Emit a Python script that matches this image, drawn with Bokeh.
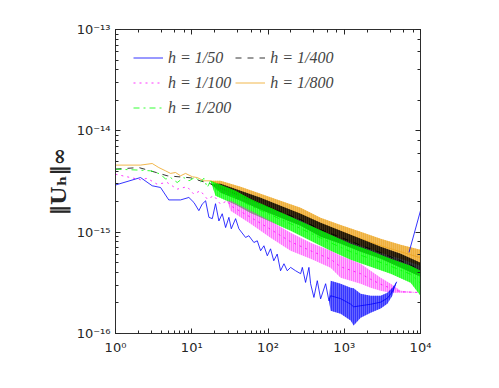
import math
from bokeh.plotting import figure
from bokeh.models import LogAxis, Range1d, Legend, LegendItem, CustomJSTickFormatter, LogTicker
from bokeh.embed import file_html
from bokeh.resources import INLINE

# ---------------- data ----------------
labels = ["h = 1/50", "h = 1/100", "h = 1/200", "h = 1/400", "h = 1/800"]

# h = 1/50
x_line_50 = [1, 2.13, 3.03, 3.9, 5.0, 7.13, 9.17, 10.7, 12.4, 13.7, 15.2, 16.8, 18.6, 20.5, 22.7,
             25.1, 27.8, 30.7, 33.0, 37.6, 41.5, 50.8, 56.1, 65.3, 72.4, 80.0, 88.4, 97.9, 108,
             119, 132, 146, 162, 179, 198, 230, 268, 282, 311, 344, 362, 400, 443, 490, 570, 630]
y_line_50 = [2.92e-15, 3.46e-15, 2.87e-15, 2.76e-15, 2.08e-15, 2.08e-15, 2.20e-15, 1.96e-15,
             1.63e-15, 1.89e-15, 2.04e-15, 1.40e-15, 1.36e-15, 1.91e-15, 1.29e-15, 1.52e-15,
             1.11e-15, 1.40e-15, 1.08e-15, 1.36e-15, 1.08e-15, 8.87e-16, 9.22e-16, 7.91e-16,
             8.22e-16, 6.56e-16, 7.34e-16, 5.85e-16, 6.85e-16, 5.22e-16, 6.08e-16, 4.16e-16,
             4.88e-16, 4.16e-16, 4.49e-16, 4.16e-16, 3.89e-16, 4.49e-16, 3.19e-16, 4.49e-16,
             3.10e-16, 2.27e-16, 3.32e-16, 2.20e-16, 3.10e-16, 2.10e-16]
x_band_50 = [663, 897, 1213, 1328, 1641, 2220, 3005, 3675, 4272, 4870]
lo_band_50 = [1.68e-16, 1.57e-16, 1.34e-16, 1.20e-16, 1.43e-16, 1.60e-16, 1.76e-16, 1.97e-16, 2.36e-16, 3.24e-16]
hi_band_50 = [3.32e-16, 3.10e-16, 2.83e-16, 2.80e-16, 2.47e-16, 2.36e-16, 2.36e-16, 2.52e-16, 2.83e-16, 3.24e-16]
x_tail_50 = [7063, 10000]
y_tail_50 = [6.31e-16, 1.63e-15]

# h = 1/100
x_line_100 = [1, 2.13, 2.6, 3.5, 4.76, 6.45, 8.7, 10.6, 13.0, 16.0, 19.5, 23.8, 29.2]
y_line_100 = [3.73e-15, 3.29e-15, 3.40e-15, 2.98e-15, 3.09e-15, 2.66e-15, 2.81e-15, 2.38e-15,
              2.56e-15, 2.12e-15, 2.29e-15, 1.89e-15, 2.04e-15]
x_band_100 = [32.3, 59.1, 108, 198, 362, 663, 897, 1641, 2220, 3005, 4064, 5495, 10000]
hi_band_100 = [2.04e-15, 1.63e-15, 1.29e-15, 9.86e-16, 7.85e-16, 6.56e-16, 5.85e-16, 4.88e-16,
               4.16e-16, 3.55e-16, 3.10e-16, 2.64e-16, 2.54e-16]
lo_band_100 = [1.63e-15, 1.21e-15, 8.81e-16, 6.56e-16, 5.47e-16, 4.46e-16, 3.55e-16, 3.10e-16,
               2.83e-16, 2.64e-16, 2.52e-16, 2.52e-16, 2.54e-16]

# h = 1/200
x_line_200 = [1, 2.13, 2.88, 3.9, 4.53, 5.27, 6.45, 7.87, 9.2, 11.2, 13.0, 14.4, 16.0, 17.6]
y_line_200 = [4.19e-15, 4.09e-15, 4.03e-15, 3.74e-15, 3.34e-15, 3.46e-15, 3.09e-15, 3.46e-15,
              3.21e-15, 3.50e-15, 3.09e-15, 3.40e-15, 2.76e-15, 3.21e-15]
x_band_200 = [20.5, 37.6, 59.1, 108, 198, 362, 663, 1213, 2220, 4064, 7430, 10000]
hi_band_200 = [3.07e-15, 2.56e-15, 2.13e-15, 1.74e-15, 1.42e-15, 1.16e-15, 9.42e-16, 7.69e-16,
               6.56e-16, 5.47e-16, 4.66e-16, 4.16e-16]
lo_band_200 = [2.29e-15, 1.86e-15, 1.55e-15, 1.27e-15, 1.03e-15, 8.22e-16, 6.56e-16, 5.35e-16,
               4.56e-16, 3.89e-16, 3.17e-16, 2.36e-16]

# h = 1/400
x_line_400 = [1, 2.02, 2.88, 4.77, 9.64, 13.0, 17.6]
y_line_400 = [4.19e-15, 4.34e-15, 4.03e-15, 3.60e-15, 3.44e-15, 3.21e-15, 3.00e-15]
x_band_400 = [23.9, 43.7, 80, 146, 268, 490, 897, 1641, 3005, 5495, 10000]
hi_band_400 = [3.00e-15, 2.56e-15, 2.18e-15, 1.82e-15, 1.52e-15, 1.24e-15, 1.03e-15, 8.61e-16,
               7.18e-16, 6.12e-16, 4.99e-16]
lo_band_400 = [2.45e-15, 2.04e-15, 1.66e-15, 1.39e-15, 1.16e-15, 9.01e-16, 7.69e-16, 6.41e-16,
               5.47e-16, 4.46e-16, 3.63e-16]

# h = 1/800
x_line_800 = [1, 2.13, 3.03, 3.70, 4.53, 5.27, 6.13, 7.13, 8.29, 10.2, 11.8, 14.4, 17.6]
y_line_800 = [4.59e-15, 4.59e-15, 4.76e-15, 4.34e-15, 4.03e-15, 3.80e-15, 3.88e-15, 3.60e-15,
              3.80e-15, 3.52e-15, 3.46e-15, 3.21e-15, 3.21e-15]
x_band_800 = [23.9, 43.7, 80, 146, 268, 490, 897, 1641, 3005, 5495, 10000]
hi_band_800 = [3.21e-15, 2.81e-15, 2.39e-15, 2.04e-15, 1.74e-15, 1.39e-15, 1.18e-15, 1.01e-15,
               8.61e-16, 7.51e-16, 6.70e-16]
lo_band_800 = [2.68e-15, 2.23e-15, 1.86e-15, 1.55e-15, 1.32e-15, 1.03e-15, 8.61e-16, 7.34e-16,
               6.27e-16, 5.47e-16, 4.66e-16]

# ---------------- figure ----------------
p = figure(width=490, height=378, x_axis_type="log", y_axis_type="log",
           x_range=Range1d(1, 1e4), y_range=Range1d(1e-16, 1e-13),
           output_backend="svg", toolbar_location=None,
           min_border_left=115, min_border_top=29, min_border_right=70, min_border_bottom=45)
p.xgrid.visible = False
p.ygrid.visible = False
p.outline_line_color = "#262626"
p.outline_line_width = 0.8
p.background_fill_color = "white"
p.border_fill_color = "white"

sup_js = """
const sup = {'0':'\u2070','1':'\u00b9','2':'\u00b2','3':'\u00b3','4':'\u2074','5':'\u2075',
             '6':'\u2076','7':'\u2077','8':'\u2078','9':'\u2079','-':'\u207b'};
const e = Math.round(Math.log10(tick));
return '10' + String(e).split('').map(c => sup[c]).join('');
"""
fmt = CustomJSTickFormatter(code=sup_js)
blank = CustomJSTickFormatter(code="return '';")

def style_axis(ax, show_labels):
    ax.axis_line_color = "#262626"
    ax.axis_line_width = 0.8
    ax.major_tick_in = 5
    ax.major_tick_out = 0
    ax.minor_tick_in = 3
    ax.minor_tick_out = 0
    ax.major_tick_line_color = "#262626"
    ax.minor_tick_line_color = "#262626"
    ax.major_label_text_font = "DejaVu Sans"
    ax.major_label_text_font_size = "13px"
    ax.major_label_text_color = "#262626"
    ax.formatter = fmt if show_labels else blank

style_axis(p.xaxis[0], True)
style_axis(p.yaxis[0], True)
p.xaxis[0].major_label_standoff = 6
p.yaxis[0].major_label_standoff = 5

top = LogAxis(ticker=LogTicker())
right = LogAxis(ticker=LogTicker())
style_axis(top, False)
style_axis(right, False)
top.major_label_text_font_size = "1px"
right.major_label_text_font_size = "1px"
p.add_layout(top, "above")
p.add_layout(right, "right")

p.yaxis[0].axis_label = "\u2016U\u2095\u2016\u221e"
p.yaxis[0].axis_label_text_font = "DejaVu Serif"
p.yaxis[0].axis_label_text_font_size = "21px"
p.yaxis[0].axis_label_text_font_style = "bold"
p.yaxis[0].axis_label_standoff = 3
p.yaxis[0].axis_label_text_color = "#262626"

colors = ["#0000FF", "#FF00FF", "#00FF00", "#000000", "#EDA520"]
dashes = ["solid", "dotted", "dashdot", "dashed", "solid"]
fill_alphas = [0.6, 0.3, 0.7, 0.75, 0.75]
hatch_alphas = [0.95, 0.7, 1.0, 1.0, 1.0]

series = [
    (x_line_50, y_line_50, x_band_50, lo_band_50, hi_band_50),
    (x_line_100, y_line_100, x_band_100, lo_band_100, hi_band_100),
    (x_line_200, y_line_200, x_band_200, lo_band_200, hi_band_200),
    (x_line_400, y_line_400, x_band_400, lo_band_400, hi_band_400),
    (x_line_800, y_line_800, x_band_800, lo_band_800, hi_band_800),
]

line_renderers = [None] * 5
for i in [4, 3, 2, 1, 0]:
    xl, yl, xb, lo, hi = series[i]
    bx = [xl[-1]] + xb
    blo = [yl[-1]] + lo
    bhi = [yl[-1]] + hi
    p.varea(x=bx, y1=blo, y2=bhi, fill_color=colors[i], fill_alpha=fill_alphas[i],
            hatch_pattern="vertical_line", hatch_color=colors[i], hatch_alpha=hatch_alphas[i],
            hatch_scale=2, hatch_weight=1)
    mid = [math.sqrt(a * b) for a, b in zip(lo, hi)]
    r = p.line(xl + xb, yl + mid, line_color=colors[i], line_width=0.8, line_dash=dashes[i])
    line_renderers[i] = r
    if i == 0:
        p.line(x_tail_50, y_tail_50, line_color=colors[0], line_width=0.8)

items = [LegendItem(label=labels[i], renderers=[line_renderers[i]]) for i in range(5)]
legend = Legend(items=items, location="top_left", nrows=3,
                label_text_font="Liberation Serif", label_text_font_style="italic",
                label_text_font_size="16px", label_height=21, glyph_height=21, glyph_width=30,
                spacing=4, padding=6, margin=18, label_standoff=5,
                border_line_color=None, background_fill_alpha=0)
p.add_layout(legend, "center")

open("out.html", "w").write(file_html(p, INLINE))
